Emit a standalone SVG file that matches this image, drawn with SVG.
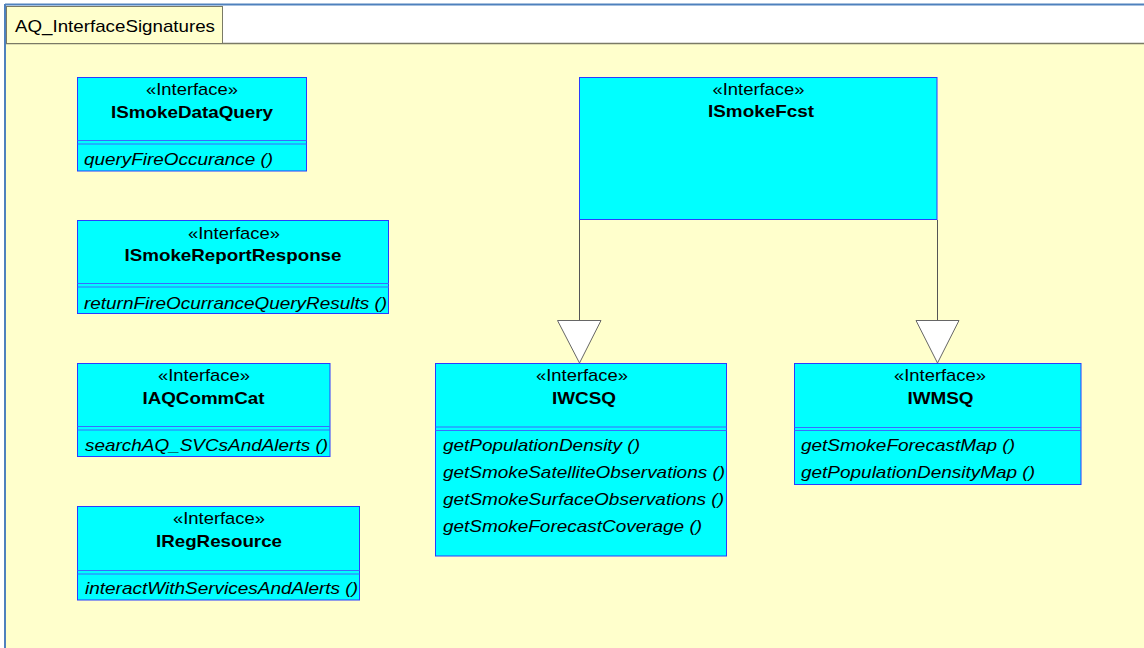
<svg xmlns="http://www.w3.org/2000/svg" width="1144" height="648" viewBox="0 0 1144 648">
<style>
.box{fill:#00FFFF;stroke:#2A3BFF;stroke-width:1}
.sep{stroke:#3A6BFF;stroke-width:1}
.st{font-family:"Liberation Sans",Arial,sans-serif;font-size:17px;fill:#000;text-anchor:middle}
.nm{font-family:"Liberation Sans",Arial,sans-serif;font-size:17px;font-weight:bold;fill:#000;text-anchor:middle}
.op{font-family:"Liberation Sans",Arial,sans-serif;font-size:17px;font-style:italic;fill:#000}
.lbl{font-family:"Liberation Sans",Arial,sans-serif;font-size:17px;fill:#000}
.edge{stroke:#555;stroke-width:1;fill:none}
.tri{fill:#FFFFFF;stroke:#666;stroke-width:1}
</style>
<rect x="0" y="0" width="1144" height="648" fill="#FFFFFF"/>
<g id="frame">
<rect x="6" y="44" width="1140" height="606" fill="#FFFFCC"/>
<line x1="6" y1="43.5" x2="1144" y2="43.5" stroke="#7A7A66" stroke-width="1.5"/>
<rect x="6.5" y="6.5" width="216" height="37" fill="#FFFFCC" stroke="#7A7A66" stroke-width="1"/>
<text class="lbl" x="15" y="32" textLength="200" lengthAdjust="spacingAndGlyphs">AQ_InterfaceSignatures</text>
<line x1="5" y1="4.5" x2="1144" y2="4.5" stroke="#4F81BD" stroke-width="2"/>
<line x1="5" y1="4" x2="5" y2="648" stroke="#4F81BD" stroke-width="2"/>
</g>
<g id="connectors">
<line class="edge" x1="579.5" y1="220" x2="579.5" y2="320"/>
<polygon class="tri" points="557.5,320.5 601,320.5 579.5,363"/>
<line class="edge" x1="937.5" y1="220" x2="937.5" y2="320"/>
<polygon class="tri" points="916,320.5 959,320.5 937.5,363"/>
</g>
<g id="ISmokeDataQuery">
<rect class="box" x="77.5" y="77.5" width="229" height="93.5"/>
<line class="sep" x1="77.5" y1="140.5" x2="306.5" y2="140.5"/>
<line class="sep" x1="77.5" y1="144" x2="306.5" y2="144"/>
<text class="st" x="192" y="95" textLength="92" lengthAdjust="spacingAndGlyphs">«Interface»</text>
<text class="nm" x="192" y="117.5" textLength="162" lengthAdjust="spacingAndGlyphs">ISmokeDataQuery</text>
<text class="op" x="84" y="165" textLength="189" lengthAdjust="spacingAndGlyphs">queryFireOccurance ()</text>
</g>
<g id="ISmokeReportResponse">
<rect class="box" x="77.5" y="220.5" width="311" height="93"/>
<line class="sep" x1="77.5" y1="283.5" x2="389" y2="283.5"/>
<line class="sep" x1="77.5" y1="287" x2="389" y2="287"/>
<text class="st" x="234" y="238.5" textLength="92" lengthAdjust="spacingAndGlyphs">«Interface»</text>
<text class="nm" x="233" y="261" textLength="217" lengthAdjust="spacingAndGlyphs">ISmokeReportResponse</text>
<text class="op" x="84" y="308.5" textLength="303" lengthAdjust="spacingAndGlyphs">returnFireOcurranceQueryResults ()</text>
</g>
<g id="IAQCommCat">
<rect class="box" x="77.5" y="363.5" width="252.5" height="93"/>
<line class="sep" x1="77.5" y1="426.5" x2="330" y2="426.5"/>
<line class="sep" x1="77.5" y1="430" x2="330" y2="430"/>
<text class="st" x="204" y="381" textLength="92" lengthAdjust="spacingAndGlyphs">«Interface»</text>
<text class="nm" x="203.5" y="404" textLength="122" lengthAdjust="spacingAndGlyphs">IAQCommCat</text>
<text class="op" x="85" y="451" textLength="243" lengthAdjust="spacingAndGlyphs">searchAQ_SVCsAndAlerts ()</text>
</g>
<g id="IRegResource">
<rect class="box" x="77.5" y="506.5" width="282" height="93.5"/>
<line class="sep" x1="77.5" y1="570.5" x2="359.5" y2="570.5"/>
<line class="sep" x1="77.5" y1="574" x2="359.5" y2="574"/>
<text class="st" x="219" y="524" textLength="92" lengthAdjust="spacingAndGlyphs">«Interface»</text>
<text class="nm" x="219" y="547" textLength="126" lengthAdjust="spacingAndGlyphs">IRegResource</text>
<text class="op" x="85" y="593.5" textLength="273" lengthAdjust="spacingAndGlyphs">interactWithServicesAndAlerts ()</text>
</g>
<g id="ISmokeFcst">
<rect class="box" x="579.5" y="77.5" width="357.5" height="142"/>
<text class="st" x="758.5" y="95" textLength="92" lengthAdjust="spacingAndGlyphs">«Interface»</text>
<text class="nm" x="761" y="117" textLength="106" lengthAdjust="spacingAndGlyphs">ISmokeFcst</text>
</g>
<g id="IWCSQ">
<rect class="box" x="435.5" y="363.5" width="291" height="192.5"/>
<line class="sep" x1="435.5" y1="427" x2="726.5" y2="427"/>
<line class="sep" x1="435.5" y1="430.5" x2="726.5" y2="430.5"/>
<text class="st" x="582" y="381" textLength="92" lengthAdjust="spacingAndGlyphs">«Interface»</text>
<text class="nm" x="584" y="404" textLength="64" lengthAdjust="spacingAndGlyphs">IWCSQ</text>
<text class="op" x="443" y="450.5" textLength="197" lengthAdjust="spacingAndGlyphs">getPopulationDensity ()</text>
<text class="op" x="443" y="477.5" textLength="282" lengthAdjust="spacingAndGlyphs">getSmokeSatelliteObservations ()</text>
<text class="op" x="443" y="504.5" textLength="281" lengthAdjust="spacingAndGlyphs">getSmokeSurfaceObservations ()</text>
<text class="op" x="443" y="531.5" textLength="259" lengthAdjust="spacingAndGlyphs">getSmokeForecastCoverage ()</text>
</g>
<g id="IWMSQ">
<rect class="box" x="794.5" y="363.5" width="286.5" height="121"/>
<line class="sep" x1="794.5" y1="427.5" x2="1081" y2="427.5"/>
<line class="sep" x1="794.5" y1="430.5" x2="1081" y2="430.5"/>
<text class="st" x="940" y="381" textLength="92" lengthAdjust="spacingAndGlyphs">«Interface»</text>
<text class="nm" x="940.5" y="404" textLength="66" lengthAdjust="spacingAndGlyphs">IWMSQ</text>
<text class="op" x="801" y="450.5" textLength="214" lengthAdjust="spacingAndGlyphs">getSmokeForecastMap ()</text>
<text class="op" x="801" y="478" textLength="234" lengthAdjust="spacingAndGlyphs">getPopulationDensityMap ()</text>
</g>
</svg>
